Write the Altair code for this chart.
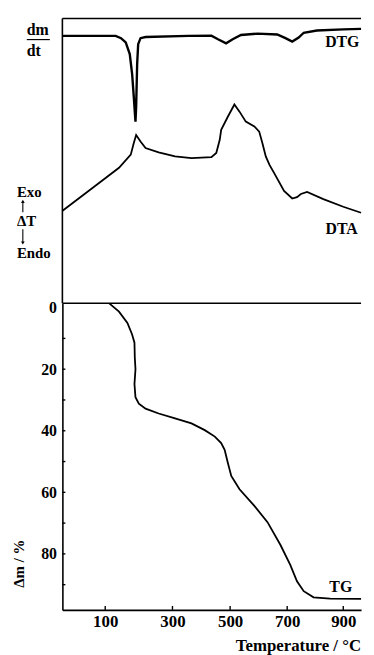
import altair as alt
import pandas as pd

# ---------------- data ----------------
# DTG (top panel, arbitrary units)
dtg_T = [-27, 82, 131, 147, 161, 173, 180, 185, 190, 192, 195, 198, 205, 220, 355,
         435, 458, 486, 509, 538, 596, 665, 694, 718, 741, 759, 806, 900, 963.5]
dtg_v = [93.9, 93.9, 93.9, 93.1, 91.6, 87.5, 80.6, 72.5, 63.8, 69.0, 84.0, 91.0, 93.1, 93.5, 93.9,
         94.0, 92.7, 91.3, 92.7, 94.2, 94.7, 94.4, 93.1, 91.9, 93.3, 95.0, 95.8, 96.2, 96.35]

# DTA (top panel, arbitrary units)
dta_T = [-27, 63, 141, 176, 185, 192, 205, 220, 259, 309, 366, 435, 452, 464, 469, 492, 515,
         533, 555, 585, 602, 613, 625, 638, 654, 689, 718, 735, 749, 771, 829, 900, 963.5]
dta_v = [32.5, 40.6, 47.6, 52.2, 56.3, 59.1, 56.8, 54.5, 53.0, 51.6, 51.0, 51.3, 52.8, 57.4, 60.9,
         65.5, 69.8, 67.3, 63.8, 62.1, 60.3, 56.3, 51.6, 48.6, 45.8, 39.5, 36.8, 37.3, 38.4, 39.1,
         36.6, 33.9, 31.8]

# TG (bottom panel, mass loss %)
tg_T = [112, 141, 166, 180, 187, 188, 190, 187, 190, 200, 220, 259, 309, 366, 412, 447, 469,
        481, 492, 504, 533, 585, 631, 677, 711, 735, 759, 794, 853, 963.5]
tg_v = [-1.4, 1.3, 5.0, 8.7, 11.4, 16.2, 20.0, 24.8, 29.1, 31.2, 32.8, 34.4, 36.0, 37.6, 39.8,
        41.9, 44.0, 46.2, 50.4, 54.7, 59.0, 64.4, 69.7, 77.2, 83.6, 88.9, 92.1, 94.1, 94.5, 94.6]

x_ticks = [100, 300, 500, 700, 900]
y_ticks = [0, 10, 20, 30, 40, 50, 60, 70, 80, 90]

# temperature axis of the original is not quite uniform: piecewise scale through its ticks
x_knots = [-27.4, 100, 300, 500, 700, 900, 963.5]
x_range = [0, 43.3, 111.3, 169.6, 227.3, 284, 302]

W = 302
H_TOP = 288
H_BOT = 310
FONT = "Liberation Serif"

xscale = alt.Scale(domain=x_knots, range=x_range, nice=False, zero=False)
top_y = alt.Scale(domain=[0, 100], nice=False, zero=False)
bot_y = alt.Scale(domain=[-1.4, 98.2], reverse=True, nice=False, zero=False)


def df_of(T, v):
    return pd.DataFrame({"T": T, "v": v, "i": list(range(len(T)))})


def label(text, x, y, size=15, align="center", baseline="alphabetic", angle=0, font=FONT, weight="bold"):
    props = dict(fontSize=size, font=font, fontWeight=weight, align=align, baseline=baseline, color="black")
    if angle:
        props["angle"] = angle
    return alt.Chart(pd.DataFrame({"t": [text]})).mark_text(**props).encode(
        text="t:N", x=alt.value(x), y=alt.value(y)
    )


one = pd.DataFrame({"a": [0]})


def arrow(x, y_tail, y_head, shape):
    shaft = alt.Chart(one).mark_rule(color="black", strokeWidth=1.1).encode(
        x=alt.value(x), y=alt.value(y_tail), y2=alt.value(y_head)
    )
    head = alt.Chart(one).mark_point(shape=shape, filled=True, color="black", size=14, opacity=1).encode(
        x=alt.value(x), y=alt.value(y_head)
    )
    return shaft + head


# ---------------- top panel: DTG + DTA ----------------
dtg = alt.Chart(df_of(dtg_T, dtg_v)).mark_line(color="black", strokeWidth=2.4).encode(
    x=alt.X("T:Q", scale=xscale, axis=None),
    y=alt.Y("v:Q", scale=top_y, axis=None),
    order="i:Q",
)
dta = alt.Chart(df_of(dta_T, dta_v)).mark_line(color="black", strokeWidth=1.8).encode(
    x=alt.X("T:Q", scale=xscale, axis=None),
    y=alt.Y("v:Q", scale=top_y, axis=None),
    order="i:Q",
)
left_border = alt.Chart(one).mark_rule(color="black", strokeWidth=1.6).encode(
    x=alt.value(0), y=alt.value(0), y2=alt.value(H_TOP)
)
top_border = alt.Chart(one).mark_rule(color="black", strokeWidth=1.6).encode(
    x=alt.value(0), x2=alt.value(W), y=alt.value(0)
)
anchor = alt.Chart(one).mark_rule(color="white", strokeWidth=0.5).encode(
    x=alt.value(-54.5), x2=alt.value(-54.2), y=alt.value(-6), y2=alt.value(-5.8)
)
frac_line = alt.Chart(one).mark_rule(color="black", strokeWidth=1.2).encode(
    x=alt.value(-36), x2=alt.value(-12.7), y=alt.value(21.3)
)

top = alt.layer(
    anchor, dta, dtg, left_border, top_border, frac_line,
    arrow(-40, 196, 185, "triangle-up"),
    arrow(-40, 213, 227, "triangle-down"),
    label("dm", -36, 16.5, size=16, align="left"),
    label("dt", -36, 37.5, size=16, align="left"),
    label("Exo", -46, 180, size=15, align="left"),
    label("ΔT", -46, 210, size=15, align="left"),
    label("Endo", -46, 242.5, size=15, align="left"),
    label("DTG", 283, 29.3, size=16),
    label("DTA", 282.3, 217.7, size=16),
).properties(width=W, height=H_TOP)

# ---------------- bottom panel: TG ----------------
x_axis = alt.Axis(
    values=x_ticks, format="d", tickSize=0, grid=False, title=None,
    domainColor="black", domainWidth=1.6, labelColor="black",
    labelFont=FONT, labelFontWeight="bold", labelFontSize=17, labelPadding=4,
)
y_axis = alt.Axis(
    values=y_ticks, format="d", tickSize=0, grid=False, title=None,
    labelExpr="datum.value % 20 == 0 ? datum.label : ''",
    domainColor="black", domainWidth=1.6, labelColor="black",
    labelFont=FONT, labelFontWeight="bold", labelFontSize=16, labelPadding=6,
)

tg = alt.Chart(df_of(tg_T, tg_v)).mark_line(color="black", strokeWidth=1.8).encode(
    x=alt.X("T:Q", scale=xscale, axis=x_axis),
    y=alt.Y("v:Q", scale=bot_y, axis=y_axis),
    order="i:Q",
)
xt = alt.Chart(pd.DataFrame({"T": x_ticks})).mark_rule(color="black", strokeWidth=1.4).encode(
    x=alt.X("T:Q", scale=xscale), y=alt.value(H_BOT), y2=alt.value(H_BOT - 4)
)
yt = alt.Chart(pd.DataFrame({"v": y_ticks[1:]})).mark_rule(color="black", strokeWidth=1.4).encode(
    y=alt.Y("v:Q", scale=bot_y), x=alt.value(0), x2=alt.value(3)
)
divider = alt.Chart(one).mark_rule(color="black", strokeWidth=1.6).encode(
    x=alt.value(0), x2=alt.value(W), y=alt.value(0)
)

bottom = alt.layer(
    tg, xt, yt, divider,
    label("TG", 281.5, 291.6, size=16),
    label("Temperature / °C", 302, 352, size=17, align="right"),
    label("Δm / %", -43.5, 263.3, size=15, baseline="middle", angle=270),
).properties(width=W, height=H_BOT)

chart = alt.vconcat(top, bottom, spacing=0, bounds="flush").properties(
    padding={"left": 0, "top": 0, "right": 0, "bottom": 0}
).configure_view(stroke=None)

chart.save("out.html", embed_options={"renderer": "svg", "actions": False})
